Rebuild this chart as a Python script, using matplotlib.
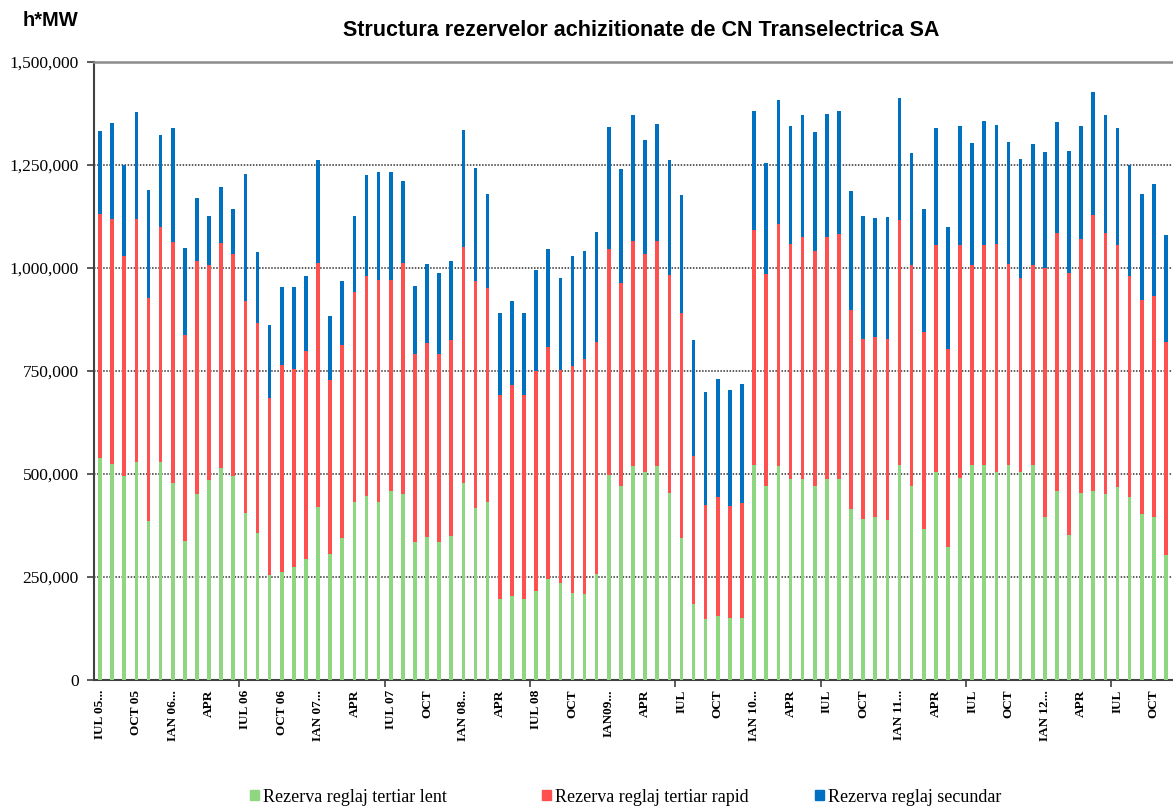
import matplotlib
matplotlib.use('Agg')
import matplotlib.pyplot as plt
from matplotlib.patches import Patch
from matplotlib.ticker import FuncFormatter
import numpy as np

# valori lunare in mii h*MW, IUL 2005 - NOV 2012
lent = [539, 524, 495, 529, 386, 530, 477, 337, 452, 485, 514, 495, 405, 358, 255,
        263, 274, 294, 419, 307, 345, 432, 447, 432, 458, 452, 335, 347, 335, 350,
        477, 418, 431, 197, 203, 197, 215, 244, 235, 211, 209, 258, 498, 471, 520,
        504, 520, 454, 344, 185, 149, 156, 151, 151, 521, 471, 519, 488, 488, 471,
        488, 488, 415, 391, 396, 388, 521, 471, 366, 505, 324, 491, 522, 522, 505,
        522, 505, 522, 396, 459, 352, 453, 459, 452, 468, 445, 403, 396, 303]
rapid = [593, 595, 534, 590, 541, 570, 587, 500, 565, 523, 547, 538, 516, 508, 430,
         502, 481, 505, 592, 422, 468, 509, 533, 538, 512, 561, 456, 471, 456, 476,
         573, 551, 521, 495, 513, 495, 535, 564, 518, 551, 569, 562, 548, 493, 546,
         530, 546, 529, 547, 358, 276, 288, 272, 279, 571, 515, 589, 570, 587, 570,
         587, 595, 483, 437, 437, 439, 595, 536, 478, 551, 479, 565, 485, 534, 553,
         487, 470, 485, 604, 627, 637, 617, 669, 633, 588, 536, 519, 537, 518]
secundar = [201, 232, 222, 260, 262, 224, 275, 211, 153, 117, 135, 109, 307, 172, 177,
            190, 199, 181, 252, 154, 155, 185, 246, 262, 262, 199, 165, 192, 197, 190,
            285, 274, 228, 199, 204, 199, 244, 238, 222, 268, 263, 267, 296, 276, 305,
            277, 284, 279, 285, 282, 275, 287, 281, 288, 289, 270, 299, 287, 296, 289,
            300, 297, 290, 297, 288, 296, 296, 271, 298, 285, 297, 288, 296, 300, 289,
            296, 290, 294, 282, 268, 294, 274, 298, 286, 285, 269, 257, 270, 259]

etichete = ["IUL 05...", "OCT 05", "IAN 06...", "APR", "IUL 06", "OCT 06",
            "IAN 07...", "APR", "IUL 07", "OCT", "IAN 08...", "APR", "IUL 08", "OCT",
            "IAN09...", "APR", "IUL", "OCT", "IAN 10...", "APR", "IUL", "OCT",
            "IAN 11...", "APR", "IUL", "OCT", "IAN 12...", "APR", "IUL", "OCT"]

serii = ["Rezerva reglaj tertiar lent", "Rezerva reglaj tertiar rapid",
         "Rezerva reglaj secundar"]
culori = ["#8fd680", "#ff5050", "#0070c0"]


def main():
    v_lent = np.array(lent) * 1000
    v_rapid = np.array(rapid) * 1000
    v_sec = np.array(secundar) * 1000
    x = np.arange(len(v_lent))

    fig = plt.figure(figsize=(11.73, 8.07), dpi=100)
    ax = fig.add_axes([94 / 1173, 1 - 680 / 807, (1172 - 94) / 1173, (680 - 62) / 807])

    w = 0.3
    ax.bar(x, v_lent, width=w, color=culori[0], zorder=3)
    ax.bar(x, v_rapid, width=w, bottom=v_lent, color=culori[1], zorder=3)
    ax.bar(x, v_sec, width=w, bottom=v_lent + v_rapid, color=culori[2], zorder=3)

    ax.set_xlim(-0.5, len(x) - 0.5)
    ax.set_ylim(0, 1500000)
    ax.set_yticks(np.arange(0, 1500001, 250000))
    ax.yaxis.set_major_formatter(FuncFormatter(lambda v, p: f"{v:,.0f}"))
    ax.yaxis.grid(True, linestyle=(0, (1, 1)), color="#303030", linewidth=1.1, zorder=0)

    ax.set_xticks(x[::3])
    ax.set_xticklabels(etichete, rotation=90, fontfamily="Liberation Serif",
                       fontweight="bold", fontsize=9.5, va="top")
    ax.set_xticks(np.arange(11.5, len(x), 12), minor=True)
    ax.tick_params(axis="x", which="major", length=0, pad=7)
    ax.tick_params(axis="x", which="minor", length=5, width=1.2, color="#404040")
    ax.tick_params(axis="y", length=5, width=1.2, color="#404040", pad=6)
    for t in ax.get_yticklabels():
        t.set_fontfamily("Liberation Serif")
        t.set_fontsize(12.5)

    ax.spines["right"].set_visible(False)
    ax.spines["top"].set_color("#8c8c8c")
    ax.spines["top"].set_linewidth(1.8)
    for s in ("left", "bottom"):
        ax.spines[s].set_color("#404040")
        ax.spines[s].set_linewidth(1.5)

    fig.text(641 / 1173, 1 - 30 / 807, "Structura rezervelor achizitionate de CN Transelectrica SA",
             ha="center", va="center", fontfamily="Liberation Sans", fontweight="bold", fontsize=15.5)
    fig.text(23 / 1173, 1 - 20 / 807, "h*MW", ha="left", va="center",
             fontfamily="Liberation Sans", fontweight="bold", fontsize=14.5)

    # legenda cu trei pozitii fixe, ca in Excel
    pozitii = [250, 542, 815]
    for nume, c, px in zip(serii, culori, pozitii):
        fig.legend(handles=[Patch(color=c, label=nume)], loc="center left",
                   bbox_to_anchor=(px / 1173, 1 - 797 / 807), frameon=False,
                   handlelength=0.5, handleheight=0.5, handletextpad=0.22,
                   borderaxespad=0, borderpad=0,
                   prop={"family": "Liberation Serif", "size": 13})

    fig.savefig("out.png", dpi=100)


if __name__ == '__main__':
    main()
